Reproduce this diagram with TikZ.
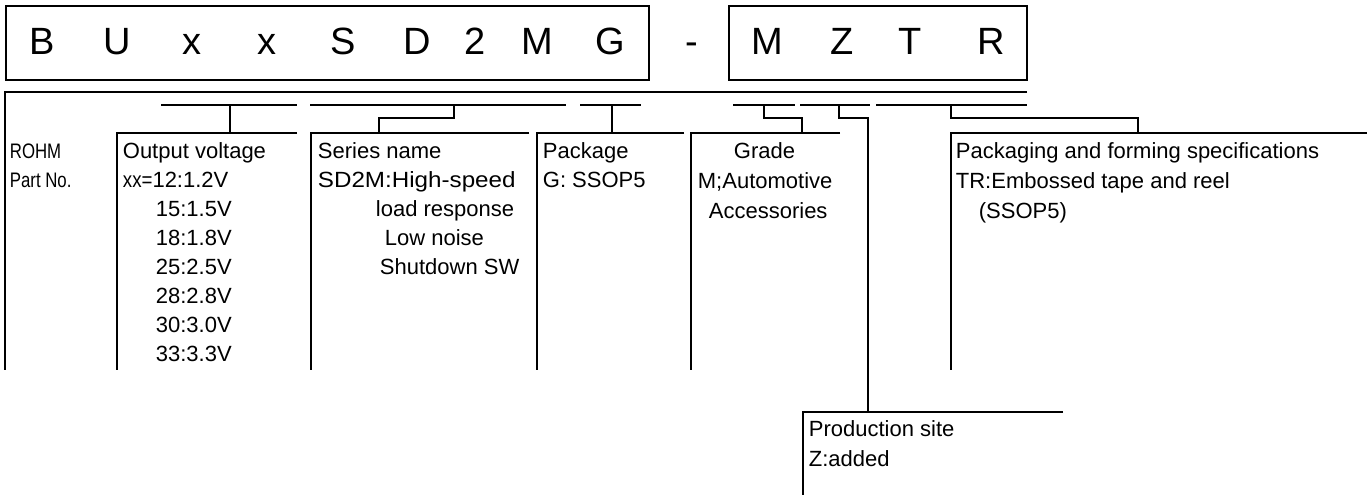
\documentclass[tikz,border=0pt]{standalone}
\usepackage{fontspec}
\setmainfont{Liberation Sans}
\newcommand{\nrw}[1]{\scalebox{0.8}[1]{#1}}
\begin{document}
\begin{tikzpicture}[x=1pt,y=-1pt,line width=1.8pt,
  lbl/.style={anchor=base west,inner sep=0pt,font=\fontsize{22}{26}\selectfont},
  narrowlbl/.style={anchor=base west,inner sep=0pt,font=\fontsize{21}{26}\selectfont},
  bigl/.style={anchor=base,inner sep=0pt,font=\fontsize{38}{46}\selectfont},
  partbox/.style={draw,anchor=north west,inner sep=0pt}]
\useasboundingbox (0,0) rectangle (1367,495);
% part number boxes
\node[partbox,minimum width=643pt,minimum height=74pt] (box1) at (5,5) {};
\node[partbox,minimum width=298pt,minimum height=74pt] (box2) at (728,5) {};
\foreach \ch/\xx [count=\i] in {B/42,U/117,x/192,x/267,S/343,D/417,2/475,M/537,G/610}
  \node[bigl] (c\i) at (\xx,55) {\ch};
\node[bigl] (dash) at (692,55) {-};
\foreach \ch/\xx [count=\i] in {M/767,Z/842,T/910,R/991}
  \node[bigl] (d\i) at (\xx,55) {\ch};
% coordinates
\coordinate (L0) at (5,92); \coordinate (L1) at (1027,92); \coordinate (L0b) at (5,370);
% segments
\coordinate (ovA) at (161,105); \coordinate (ovB) at (297,105); \coordinate (ovD) at (230,105);
\coordinate (seA) at (310,105); \coordinate (seB) at (566,105); \coordinate (seD) at (454,105);
\coordinate (pkA) at (580,105); \coordinate (pkB) at (641,105); \coordinate (pkD) at (612,105);
\coordinate (grA) at (733,105); \coordinate (grB) at (795,105); \coordinate (grD) at (764,105);
\coordinate (zA) at (800,105);  \coordinate (zB) at (870,105);  \coordinate (zD) at (839,105);
\coordinate (trA) at (876,105); \coordinate (trB) at (1027,105); \coordinate (trD) at (951,105);
% column tops
\coordinate (ovT) at (230,133); \coordinate (ovL) at (117,133); \coordinate (ovR) at (297,133); \coordinate (ovE) at (117,370);
\coordinate (seT) at (379,133); \coordinate (seL) at (311,133); \coordinate (seR) at (529,133); \coordinate (seE) at (311,370);
\coordinate (pkT) at (612,133); \coordinate (pkL) at (537,133); \coordinate (pkR) at (684,133); \coordinate (pkE) at (537,370);
\coordinate (grT) at (802,133); \coordinate (grL) at (691,133); \coordinate (grR) at (840,133); \coordinate (grE) at (691,370);
\coordinate (trT) at (1138,133); \coordinate (trL) at (951,133); \coordinate (trR) at (1367,133); \coordinate (trE) at (951,370);
\coordinate (zT) at (868,412); \coordinate (zL) at (803,412); \coordinate (zR) at (1063,412); \coordinate (zE) at (803,495);
% lines
\draw (L1) -- (L0) -- (L0b);
\foreach \g in {ov,se,pk,gr,z,tr} \draw (\g A) -- (\g B);
\draw (ovD) -- (ovT);
\draw (seD) -- (seD |- 0,118) -- (seT |- 0,118) -- (seT);
\draw (pkD) -- (pkT);
\draw (grD) -- (grD |- 0,118) -- (grT |- 0,118) -- (grT);
\draw (zD) -- (zD |- 0,118) -- (zT |- 0,118) -- (zT);
\draw (trD) -- (trD |- 0,118) -- (trT |- 0,118) -- (trT);
\foreach \g in {ov,se,pk,gr,tr,z} \draw (\g R) -- (\g L) -- (\g E);
% texts
\node[narrowlbl] (rohm) at (9,158) {\nrw{ROHM}};
\node[narrowlbl] (partno) at (9,187) {\nrw{Part No.}};
\node[lbl] (ov0) at (122,158) {Output voltage};
\node[lbl] (ov1) at (122,187) {\scalebox{0.85}[1]{xx=}12:1.2V};
\foreach \t [count=\k from 2] in {15:1.5V,18:1.8V,25:2.5V,28:2.8V,30:3.0V,33:3.3V}
  \node[lbl] (ov\k) at (155,158+29*\k) {\t};
\node[lbl] (se0) at (317,158) {Series name};
\node[lbl] (se1) at (317,187) {\scalebox{1.1}[1]{SD2M:High-speed}};
\node[lbl] (se2) at (375,216) {load response};
\node[lbl] (se3) at (384,245) {Low noise};
\node[lbl] (se4) at (379,274) {Shutdown SW};
\node[lbl] (pk0) at (542,158) {Package};
\node[lbl] (pk1) at (542,187) {G: SSOP5};
\node[lbl] (gr0) at (733,158) {Grade};
\node[lbl] (gr1) at (697,188) {M;Automotive};
\node[lbl] (gr2) at (708,218) {Accessories};
\node[lbl] (tr0) at (955,158) {Packaging and forming specifications};
\node[lbl] (tr1) at (955,188) {TR:Embossed tape and reel};
\node[lbl] (tr2) at (978,218) {(SSOP5)};
\node[lbl] (z0) at (808,436) {Production site};
\node[lbl] (z1) at (808,466) {Z:added};
\end{tikzpicture}
\end{document}
